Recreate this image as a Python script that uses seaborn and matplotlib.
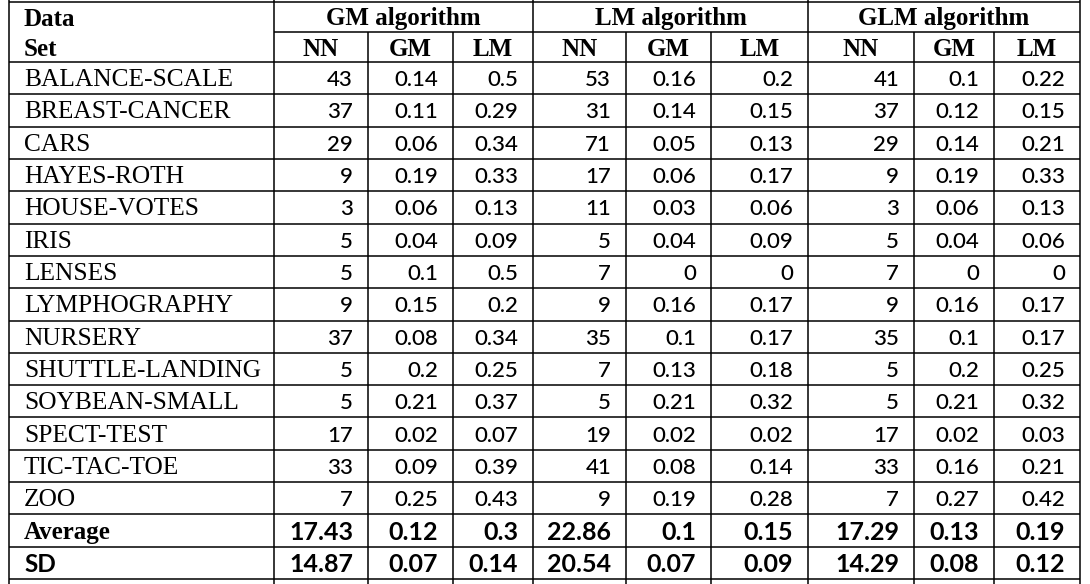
import matplotlib
matplotlib.use("Agg")
import matplotlib.pyplot as plt
import seaborn as sns

datasets = ["BALANCE-SCALE", "BREAST-CANCER", "CARS", "HAYES-ROTH", "HOUSE-VOTES",
            "IRIS", "LENSES", "LYMPHOGRAPHY", "NURSERY", "SHUTTLE-LANDING",
            "SOYBEAN-SMALL", "SPECT-TEST", "TIC-TAC-TOE", "ZOO"]
algorithms = ["GM algorithm", "LM algorithm", "GLM algorithm"]
sub_cols = ["NN", "GM", "LM"]

gm_nn = [43, 37, 29, 9, 3, 5, 5, 9, 37, 5, 5, 17, 33, 7]
gm_gm = [0.14, 0.11, 0.06, 0.19, 0.06, 0.04, 0.1, 0.15, 0.08, 0.2, 0.21, 0.02, 0.09, 0.25]
gm_lm = [0.5, 0.29, 0.34, 0.33, 0.13, 0.09, 0.5, 0.2, 0.34, 0.25, 0.37, 0.07, 0.39, 0.43]

lm_nn = [53, 31, 71, 17, 11, 5, 7, 9, 35, 7, 5, 19, 41, 9]
lm_gm = [0.16, 0.14, 0.05, 0.06, 0.03, 0.04, 0, 0.16, 0.1, 0.13, 0.21, 0.02, 0.08, 0.19]
lm_lm = [0.2, 0.15, 0.13, 0.17, 0.06, 0.09, 0, 0.17, 0.17, 0.18, 0.32, 0.02, 0.14, 0.28]

glm_nn = [41, 37, 29, 9, 3, 5, 7, 9, 35, 5, 5, 17, 33, 7]
glm_gm = [0.1, 0.12, 0.14, 0.19, 0.06, 0.04, 0, 0.16, 0.1, 0.2, 0.21, 0.02, 0.16, 0.27]
glm_lm = [0.22, 0.15, 0.21, 0.33, 0.13, 0.06, 0, 0.17, 0.17, 0.25, 0.32, 0.03, 0.21, 0.42]

average = [17.43, 0.12, 0.3, 22.86, 0.1, 0.15, 17.29, 0.13, 0.19]
sd = [14.87, 0.07, 0.14, 20.54, 0.07, 0.09, 14.29, 0.08, 0.12]

columns = [gm_nn, gm_gm, gm_lm, lm_nn, lm_gm, lm_lm, glm_nn, glm_gm, glm_lm]

sns.set_theme(style="white")
serif = "Liberation Serif"
sans = "Lato"

# layout in pixels (figure drawn 1:1)
col_edges = [9, 274, 368, 453, 533, 626, 711, 808, 914, 994, 1080]
top, head_mid, head_bot, bottom = 2, 32, 62, 579
n_body = len(datasets) + 2
row_h = (bottom - head_bot) / n_body
row_edges = [head_bot + i * row_h for i in range(n_body + 1)]

fig = plt.figure(figsize=(10.9, 5.84), dpi=100)
ax = fig.add_axes([0, 0, 1, 1])
ax.set_xlim(0, 1090)
ax.set_ylim(584, 0)
ax.axis("off")

lw = 1.1
# horizontal rules
ax.hlines([top, head_bot] + row_edges[1:], col_edges[0], col_edges[-1], color="black", lw=lw)
ax.hlines(head_mid, col_edges[1], col_edges[-1], color="black", lw=lw)
# vertical rules
for i, x in enumerate(col_edges):
    if i in (0, 1, 4, 7, 10):
        ax.vlines(x, 0, 584, color="black", lw=lw)
    else:
        ax.vlines(x, head_mid, 584, color="black", lw=lw)

hs = 18
dy = 2
ax.text(24, (top + head_mid) / 2 + dy, "Data", family=serif, weight="bold", fontsize=hs,
        ha="left", va="center", color="black")
ax.text(24, (head_mid + head_bot) / 2 + dy, "Set", family=serif, weight="bold", fontsize=hs,
        ha="left", va="center", color="black")
for g, name in enumerate(algorithms):
    x0, x1 = col_edges[1 + 3 * g], col_edges[4 + 3 * g]
    ax.text((x0 + x1) / 2, (top + head_mid) / 2 + dy, name, family=serif, weight="bold",
            fontsize=hs, ha="center", va="center", color="black")
    for k, sub in enumerate(sub_cols):
        a, b = col_edges[1 + 3 * g + k], col_edges[2 + 3 * g + k]
        ax.text((a + b) / 2, (head_mid + head_bot) / 2 + dy, sub, family=serif, weight="bold",
                fontsize=hs, ha="center", va="center", color="black")

pad = 15
for r, name in enumerate(datasets):
    yc = (row_edges[r] + row_edges[r + 1]) / 2 + dy
    ax.text(24, yc, name, family=serif, fontsize=18.3, ha="left", va="center", color="black")
    for c, vals in enumerate(columns):
        ax.text(col_edges[c + 2] - pad, yc, f"{vals[r]:g}", family=sans, fontsize=16,
                weight="medium", ha="right", va="center", color="black")

for label, vals, fam, idx in [("Average", average, serif, len(datasets)),
                              ("SD", sd, sans, len(datasets) + 1)]:
    yc = (row_edges[idx] + row_edges[idx + 1]) / 2 + dy
    ax.text(24, yc, label, family=fam, weight="bold", fontsize=18 if fam == serif else 17.5,
            ha="left", va="center", color="black")
    for c, v in enumerate(vals):
        ax.text(col_edges[c + 2] - pad, yc, f"{v:g}", family=sans, weight="bold",
                fontsize=18, ha="right", va="center", color="black")

fig.savefig("out.png", dpi=100, facecolor="white")
